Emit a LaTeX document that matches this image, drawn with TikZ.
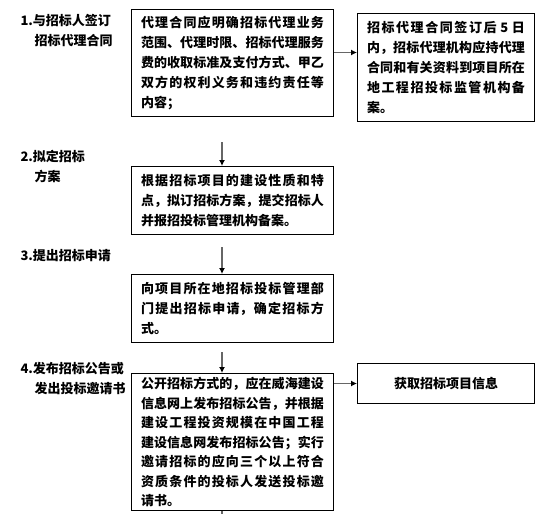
\documentclass[tikz,border=0pt]{standalone}
\usepackage{fontspec}
\newfontfamily\cjk{Noto Sans CJK SC}
\XeTeXlinebreaklocale "zh"
\XeTeXlinebreakskip=0pt plus 3pt
\usetikzlibrary{arrows.meta}

\begin{document}
\begin{tikzpicture}[x=1pt, y=-1pt, line width=1pt,
    every node/.style={font=\cjk\bfseries\fontsize{13}{20}\selectfont},
    stepbox/.style={draw, text width=183pt, inner xsep=9.5pt, align=justify, anchor=north west},
    infobox/.style={draw, text width=158pt, inner xsep=9.5pt, align=justify, anchor=north west},
    steplabel/.style={align=left, anchor=north west, inner sep=0pt},
    flow/.style={draw=gray!80!black, line width=1.3pt, -{Latex[length=6pt,width=6pt,black]}}]
  \useasboundingbox (0,0) rectangle (553,514);
  % step labels on the left
  \node[steplabel] (lab1) at (20,14) {1.与招标人签订\\\hspace*{14pt}招标代理合同};
  \node[steplabel] (lab2) at (20,150) {2.拟定招标\\\hspace*{14pt}方案};
  \node[steplabel] (lab3) at (20,249) {3.提出招标申请};
  \node[steplabel] (lab4) at (20,362) {4.发布招标公告或\\\hspace*{14pt}发出投标邀请书};
  % boxes
  \node[stepbox, minimum height=107pt] (scope) at (131,9)
    {代理合同应明确招标代理业务\linebreak 范围、代理时限、招标代理服务\linebreak 费的收取标准及支付方式、甲乙\linebreak 双方的权利义务和违约责任等\linebreak 内容；};
  \node[infobox, minimum height=108pt] (file) at (357,13)
    {招标代理合同签订后 5 日\linebreak 内，招标代理机构应持代理\linebreak 合同和有关资料到项目所在\linebreak 地工程招投标监管机构备\linebreak 案。};
  \node[stepbox, minimum height=68pt] (plan) at (131,166)
    {根据招标项目的建设性质和特\linebreak 点，拟订招标方案，提交招标人\linebreak 并报招投标管理机构备案。};
  \node[stepbox, minimum height=68pt] (apply) at (131,274)
    {向项目所在地招标投标管理部\linebreak 门提出招标申请，确定招标方\linebreak 式。};
  \node[stepbox, minimum height=137pt, font=\cjk\bfseries\fontsize{13}{19.5}\selectfont] (notice) at (131,373)
    {公开招标方式的，应在威海建设\linebreak 信息网上发布招标公告，并根据\linebreak 建设工程投资规模在中国工程\linebreak 建设信息网发布招标公告；实行\linebreak 邀请招标的应向三个以上符合\linebreak 资质条件的投标人发送投标邀\linebreak 请书。};
  \node[draw, minimum width=177pt, minimum height=40pt, anchor=north west] (info) at (357,363) {获取招标项目信息};
  % free ends of the vertical arrows
  \coordinate (t2) at (222,142);
  \coordinate (t3) at (222,247);
  \coordinate (t4) at (222,352);
  \coordinate (t5) at (222,514);
  % connectors
  \draw[flow] ([yshift=10.5pt]scope.east) -- ([yshift=10.5pt]scope.east -| file.west);
  \draw[flow] (t2) -- (t2 |- plan.north);
  \draw[flow] (t3) -- (t3 |- apply.north);
  \draw[flow] (t4) -- (t4 |- notice.north);
  \draw[flow] (notice.east |- info.west) -- (info.west);
  \draw[draw=gray!80!black, line width=1.3pt] (t5 |- notice.south) -- (t5);
\end{tikzpicture}
\end{document}
